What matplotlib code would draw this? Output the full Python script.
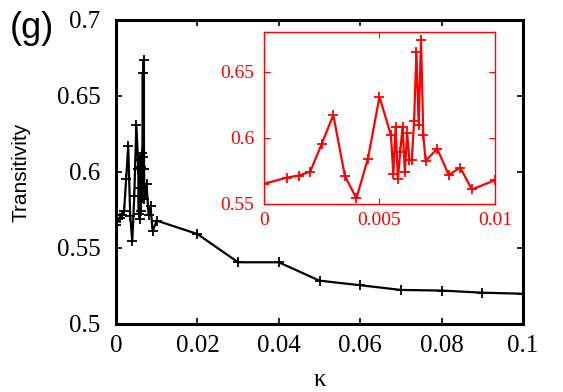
import matplotlib
matplotlib.use("Agg")
import matplotlib.pyplot as plt

# kappa values and transitivity
kappa_fine = [0.0, 0.001, 0.0015, 0.002, 0.0025, 0.003, 0.0035, 0.004, 0.0045, 0.005,
              0.0055, 0.0056, 0.0057, 0.0058, 0.0059, 0.006, 0.0061, 0.0062, 0.0063,
              0.0064, 0.0065, 0.0066, 0.0067, 0.0068, 0.0069, 0.007,
              0.0075, 0.008, 0.0085, 0.009, 0.01]
trans_fine = [0.5653, 0.570, 0.5715, 0.5745, 0.5955, 0.6173, 0.5713, 0.5543, 0.5843, 0.631,
              0.6018, 0.5725, 0.608, 0.5688, 0.5893, 0.6085, 0.5743, 0.6035, 0.583,
              0.583, 0.6125, 0.6648, 0.610, 0.6738, 0.6018, 0.5825,
              0.5918, 0.572, 0.5775, 0.561, 0.568]
kappa_coarse = [0.02, 0.03, 0.04, 0.05, 0.06, 0.07, 0.08, 0.09, 0.1]
trans_coarse = [0.5592, 0.5406, 0.5406, 0.5285, 0.5255, 0.5224, 0.5220, 0.5206, 0.5199]

kappa_all = kappa_fine + kappa_coarse
trans_all = trans_fine + trans_coarse

plt.rcParams["font.family"] = "Liberation Serif"
sans = "Liberation Sans"

fig = plt.figure(figsize=(5.63, 3.92), dpi=100)
ax = fig.add_axes([0.206, 0.1735, 0.723, 0.7755])
ax.plot(kappa_all, trans_all, color="black", lw=1.6, marker="+", ms=7, mew=1.3)
ax.set_xlim(0, 0.1)
ax.set_ylim(0.5, 0.7)
ax.set_xticks([0, 0.02, 0.04, 0.06, 0.08, 0.1])
ax.set_xticklabels(["0", "0.02", "0.04", "0.06", "0.08", "0.1"])
ax.set_yticks([0.5, 0.55, 0.6, 0.65, 0.7])
ax.set_yticklabels(["0.5", "0.55", "0.6", "0.65", "0.7"])
for s in ax.spines.values():
    s.set_linewidth(2.2)
ax.tick_params(direction="in", length=4.5, width=1.2, top=True, right=True,
               labelsize=18)
ax.tick_params(axis="y", pad=11)
ax.tick_params(axis="x", pad=8)

fig.text(320 / 563, 1 - 380 / 392, "κ", fontsize=18,
         ha="center", va="center")
fig.text(21.5 / 563, 1 - 172.5 / 392, "Transitivity", family=sans, fontsize=15,
         rotation=90, ha="center", va="center")
fig.text(0.017, 0.973, "(g)", family=sans, fontsize=26, ha="left", va="top")

# inset
red = "#ff0000"
ins = fig.add_axes([0.469, 0.4796, 0.410, 0.4388])
ins.plot(kappa_fine, trans_fine, color=red, lw=1.6, marker="+", ms=7, mew=1.3)
ins.set_xlim(0, 0.01)
ins.set_ylim(0.55, 0.68)
ins.set_xticks([0, 0.005, 0.01])
ins.set_xticklabels(["0", "0.005", "0.01"])
ins.set_yticks([0.55, 0.6, 0.65])
ins.set_yticklabels(["0.55", "0.6", "0.65"])
for s in ins.spines.values():
    s.set_color(red)
    s.set_linewidth(1.0)
ins.tick_params(direction="in", length=4, width=0.8, color=red, labelcolor=red,
                top=True, right=True, labelsize=14)
ins.tick_params(axis="y", pad=7)
ins.tick_params(axis="x", pad=6)

fig.savefig("out.png", dpi=100)
